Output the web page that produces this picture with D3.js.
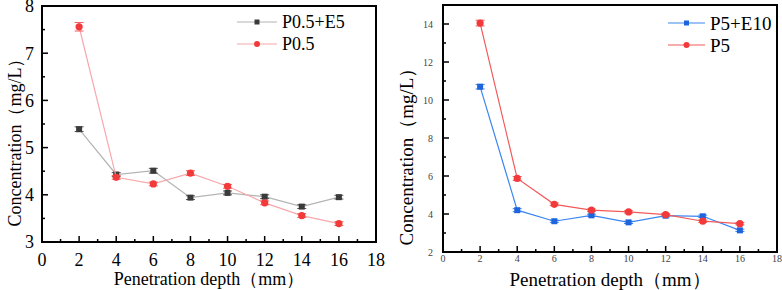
<!DOCTYPE html>
<html lang="en">
<head>
<meta charset="UTF-8">
<script src="https://d3js.org/d3.v7.min.js"></script>
<title>Concentration vs penetration depth</title>
<style>
  body { margin: 0; background: #fff; }
</style>
</head>
<body>
<script>
var depth = [2, 4, 6, 8, 10, 12, 14, 16];

// left panel
var p05e5 = [5.39, 4.43, 4.51, 3.94, 4.04, 3.96, 3.75, 3.95];
var p05e5Err = [0.05, 0.04, 0.05, 0.04, 0.04, 0.04, 0.04, 0.04];
var p05 = [7.56, 4.37, 4.23, 4.46, 4.18, 3.83, 3.56, 3.39];
var p05Err = [0.09, 0.04, 0.04, 0.05, 0.04, 0.04, 0.04, 0.04];

// right panel
var p5e10 = [10.7, 4.2, 3.62, 3.93, 3.56, 3.91, 3.88, 3.14];
var p5e10Err = [0.12, 0.08, 0.06, 0.06, 0.06, 0.06, 0.06, 0.06];
var p5 = [14.05, 5.87, 4.51, 4.2, 4.11, 3.97, 3.62, 3.49];
var p5Err = [0.15, 0.1, 0.07, 0.06, 0.06, 0.06, 0.06, 0.06];

var xTicks = [0, 2, 4, 6, 8, 10, 12, 14, 16, 18];
var leftYTicks = [3, 4, 5, 6, 7, 8];
var rightYTicks = [2, 4, 6, 8, 10, 12, 14];

var FONT = "'Liberation Serif', 'DejaVu Serif', serif";

var svg = d3.select("body").append("svg").attr("width", 782).attr("height", 290)
  .attr("font-family", FONT);

function panel(cfg) {
  var g = svg.append("g");
  var x = d3.scaleLinear().domain([0, 18]).range([cfg.x0, cfg.x1]);
  var y = d3.scaleLinear().domain(cfg.yDomain).range([cfg.y1, cfg.y0]);

  // minor + major ticks inward
  var xMinor = d3.range(1, 18, 2);
  g.selectAll(".xmin").data(xMinor).join("line")
    .attr("x1", d => x(d)).attr("x2", d => x(d))
    .attr("y1", cfg.y1).attr("y2", cfg.y1 - 3)
    .attr("stroke", "#000").attr("stroke-width", 1.5);
  g.selectAll(".xmaj").data(xTicks).join("line")
    .attr("x1", d => x(d)).attr("x2", d => x(d))
    .attr("y1", cfg.y1).attr("y2", cfg.y1 - 6)
    .attr("stroke", "#000").attr("stroke-width", 1.5);
  g.selectAll(".ymin").data(cfg.yMinor).join("line")
    .attr("x1", cfg.x0).attr("x2", cfg.x0 + 3)
    .attr("y1", d => y(d)).attr("y2", d => y(d))
    .attr("stroke", "#000").attr("stroke-width", 1.5);
  g.selectAll(".ymaj").data(cfg.yTicks).join("line")
    .attr("x1", cfg.x0).attr("x2", cfg.x0 + 6)
    .attr("y1", d => y(d)).attr("y2", d => y(d))
    .attr("stroke", "#000").attr("stroke-width", 1.5);

  g.append("rect").attr("x", cfg.x0).attr("y", cfg.y0)
    .attr("width", cfg.x1 - cfg.x0).attr("height", cfg.y1 - cfg.y0)
    .attr("fill", "none").attr("stroke", "#000").attr("stroke-width", 2);

  // tick labels
  g.selectAll(".xl").data(xTicks).join("text")
    .attr("font-family", FONT)
    .attr("x", d => x(d)).attr("y", cfg.xLabelY)
    .attr("text-anchor", "middle").attr("font-size", cfg.tickSize)
    .attr("fill", cfg.tickColor).text(d => d);
  g.selectAll(".yl").data(cfg.yTicks).join("text")
    .attr("font-family", FONT)
    .attr("x", cfg.x0 - cfg.yLabelDx).attr("y", d => y(d))
    .attr("dy", "0.35em").attr("text-anchor", "end").attr("font-size", cfg.tickSize)
    .attr("fill", cfg.tickColor).text(d => d);

  // axis titles
  g.append("text").attr("x", (cfg.x0 + cfg.x1) / 2).attr("y", cfg.xTitleY)
    .attr("font-family", FONT)
    .attr("text-anchor", "middle").attr("font-size", cfg.titleSize)
    .text("Penetration depth（mm）");
  g.append("text")
    .attr("font-family", FONT)
    .attr("transform", "translate(" + cfg.yTitleX + "," + cfg.yTitleY + ") rotate(-90)")
    .attr("text-anchor", "middle").attr("font-size", cfg.titleSize)
    .text("Concentration（mg/L）");

  var line = d3.line().x((d, i) => x(depth[i])).y(d => y(d));

  cfg.series.forEach(function (s, k) {
    g.append("path").datum(s.values).attr("d", line)
      .attr("fill", "none").attr("stroke", s.lineColor).attr("stroke-width", 1.2);
    // error bars
    var eb = g.append("g").attr("stroke", s.errColor).attr("stroke-width", 1);
    s.values.forEach(function (v, i) {
      var cx = x(depth[i]);
      eb.append("line").attr("x1", cx).attr("x2", cx)
        .attr("y1", y(v - s.err[i])).attr("y2", y(v + s.err[i]));
      [v - s.err[i], v + s.err[i]].forEach(function (e) {
        eb.append("line").attr("x1", cx - 4.5).attr("x2", cx + 4.5)
          .attr("y1", y(e)).attr("y2", y(e));
      });
    });
    // markers
    if (s.shape === "square") {
      g.selectAll(null).data(s.values).join("rect")
        .attr("x", (d, i) => x(depth[i]) - 3).attr("y", d => y(d) - 3)
        .attr("width", 6).attr("height", 6).attr("fill", s.color);
    } else {
      g.selectAll(null).data(s.values).join("circle")
        .attr("cx", (d, i) => x(depth[i])).attr("cy", d => y(d))
        .attr("r", 3.6).attr("fill", s.color);
    }
    // legend
    var ly = cfg.legendY + k * 22;
    g.append("line").attr("x1", cfg.legendX).attr("x2", cfg.legendX + cfg.legendLen)
      .attr("y1", ly).attr("y2", ly).attr("stroke", s.lineColor).attr("stroke-width", 1.2);
    var mx = cfg.legendX + cfg.legendLen / 2;
    if (s.shape === "square") {
      g.append("rect").attr("x", mx - 2.5).attr("y", ly - 2.5)
        .attr("width", 5).attr("height", 5).attr("fill", s.color);
    } else {
      g.append("circle").attr("cx", mx).attr("cy", ly).attr("r", 3).attr("fill", s.color);
    }
    g.append("text").attr("x", cfg.legendX + cfg.legendLen + 5).attr("y", ly)
      .attr("font-family", FONT)
      .attr("dy", "0.35em").attr("font-size", cfg.legendSize).text(s.name);
  });
}

panel({
  x0: 42, x1: 376, y0: 6, y1: 242,
  yDomain: [3, 8], yTicks: leftYTicks, yMinor: [3.5, 4.5, 5.5, 6.5, 7.5],
  tickSize: 18, tickColor: "#000", xLabelY: 266, yLabelDx: 8,
  titleSize: 18, xTitleY: 285, yTitleX: 21, yTitleY: 138,
  legendX: 237, legendLen: 40, legendY: 22, legendSize: 18,
  series: [
    { name: "P0.5+E5", values: p05e5, err: p05e5Err, shape: "square",
      color: "#3a3a3a", lineColor: "#b4b4b4", errColor: "#555" },
    { name: "P0.5", values: p05, err: p05Err, shape: "circle",
      color: "#f23a3a", lineColor: "#f7a8ac", errColor: "#f26060" }
  ]
});

panel({
  x0: 443, x1: 777, y0: 5, y1: 252,
  yDomain: [2, 15], yTicks: rightYTicks, yMinor: [3, 5, 7, 9, 11, 13],
  tickSize: 10, tickColor: "#444", xLabelY: 262, yLabelDx: 10,
  titleSize: 19, xTitleY: 286, yTitleX: 413, yTitleY: 152,
  legendX: 668, legendLen: 37, legendY: 23, legendSize: 19,
  series: [
    { name: "P5+E10", values: p5e10, err: p5e10Err, shape: "square",
      color: "#1e64dc", lineColor: "#3a86f0", errColor: "#3a86f0" },
    { name: "P5", values: p5, err: p5Err, shape: "circle",
      color: "#f23a3a", lineColor: "#f25a5a", errColor: "#f25a5a" }
  ]
});
</script>
</body>
</html>
